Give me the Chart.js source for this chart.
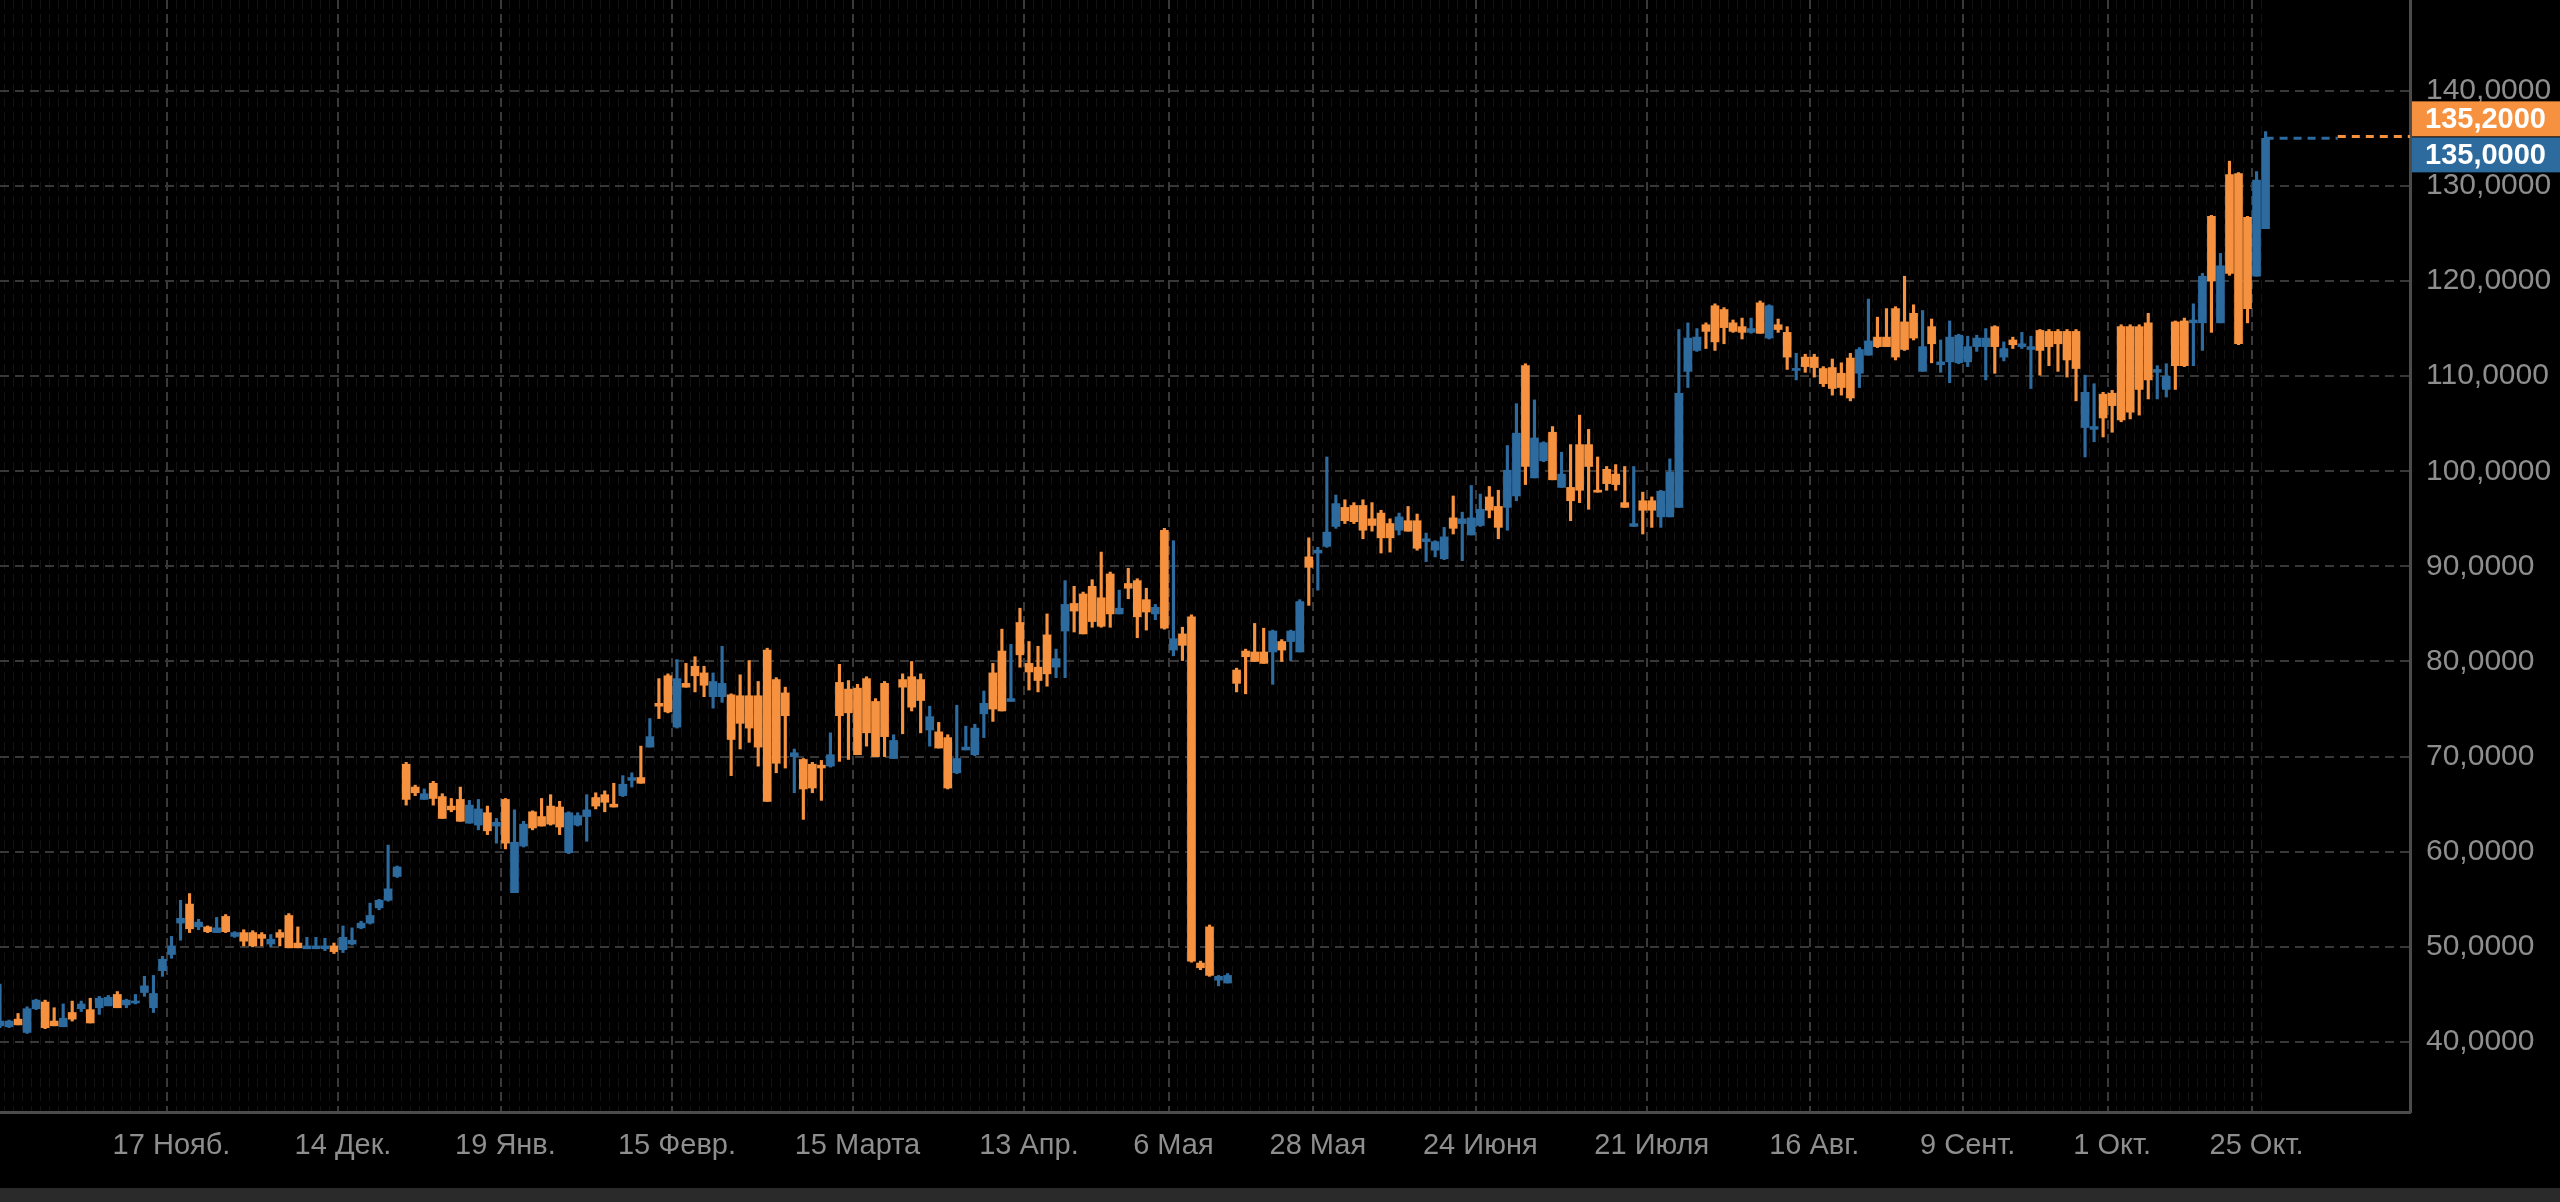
<!DOCTYPE html>
<html lang="ru">
<head>
<meta charset="UTF-8">
<title>График</title>
<script src="https://cdn.jsdelivr.net/npm/chart.js"></script>
<style>
  html, body { margin: 0; padding: 0; background: #000; overflow: hidden; }
  .wrap { position: relative; width: 2560px; height: 1188px; }
  .bottom-bar { width: 2560px; height: 14px; background: #2a2a2a; }
</style>
</head>
<body>
<div class="wrap"><canvas id="chart"></canvas></div>
<div class="bottom-bar"></div>
<script>
// свечи: open / high / low / close
const opens = [
  41.7,41.6,42.4,41.0,43.5,44.2,42.2,41.6,43.1,43.5,43.4,43.6,43.8,45.0,43.9,44.1,45.2,43.6,47.5,49.2,
  52.5,54.5,52.1,52.1,51.5,53.2,51.1,51.5,51.5,51.3,50.3,51.5,53.3,50.4,49.8,49.8,49.8,50.1,49.7,50.3,
  52.0,52.5,54.1,54.9,57.4,69.2,66.8,65.5,67.2,65.8,64.8,65.5,63.0,62.8,64.1,62.7,65.5,55.7,60.6,64.2,
  63.7,64.8,64.7,59.9,62.8,63.7,65.7,66.0,65.0,65.9,67.5,67.8,71.0,75.6,78.5,73.1,77.7,79.5,78.8,76.3,
  76.3,76.5,76.4,76.4,76.4,81.2,78.1,76.7,70.0,69.7,69.2,69.1,69.0,77.8,77.1,77.2,78.2,75.8,77.7,69.8,
  78.1,78.4,78.1,72.8,72.6,72.0,68.3,70.7,70.2,74.5,78.8,81.1,75.8,84.1,79.8,79.4,82.8,79.4,83.2,86.1,
  87.1,87.9,86.7,89.2,85.0,88.2,88.5,86.5,85.0,93.8,81.2,82.9,84.7,48.3,52.1,46.5,46.2,79.1,81.1,81.0,
  81.0,81.0,82.1,82.1,81.0,91.0,91.4,92.1,94.2,96.2,96.4,96.4,95.0,95.6,94.5,93.8,94.8,94.8,92.6,91.7,
  90.8,95.1,94.5,93.3,94.3,97.3,96.3,96.2,97.4,111.1,99.3,101.1,104.1,98.3,98.3,102.8,102.8,98.0,100.2,99.7,
  96.7,94.2,96.9,96.9,95.2,95.2,96.2,110.5,112.7,115.4,117.4,117.0,115.6,115.2,114.6,117.7,114.0,115.4,114.6,110.6,
  112.0,112.0,110.8,110.9,110.3,111.9,110.3,112.2,114.1,114.1,117.1,115.7,116.6,110.5,115.2,111.2,111.5,111.4,111.5,113.1,
  113.1,115.2,112.0,113.8,113.1,112.8,114.8,114.7,114.7,114.7,114.7,104.6,104.4,108.1,108.2,115.2,115.2,115.2,115.6,110.4,
  108.6,115.7,115.8,115.6,115.6,126.8,115.6,131.2,131.3,126.7,120.5,125.5
];
const highs = [
  46.1,42.3,43.0,43.7,44.5,44.4,43.6,44.0,44.3,44.3,44.6,44.8,44.9,45.3,44.5,45.0,46.9,47.0,49.0,51.1,
  54.9,55.6,52.9,52.2,53.1,53.4,51.6,51.8,51.7,51.5,51.3,51.8,53.5,52.1,51.0,51.0,50.9,50.4,52.2,52.0,
  52.7,54.6,55.0,60.7,58.5,69.4,67.0,66.6,67.4,66.1,65.6,66.8,65.4,65.5,64.8,63.5,65.6,64.4,63.2,64.3,
  65.6,66.0,65.3,64.2,64.1,66.0,66.2,66.4,67.2,68.0,68.3,71.1,74.0,78.2,78.7,80.2,79.8,80.5,79.5,78.8,
  81.6,76.6,78.6,80.1,77.9,81.4,78.3,77.3,70.8,69.8,69.4,69.6,72.5,79.7,78.0,77.6,78.4,76.1,77.9,72.3,
  78.7,80.0,78.7,75.3,73.6,72.3,75.4,73.2,73.4,76.9,79.8,83.4,81.8,85.6,82.1,81.6,85.0,81.3,88.5,87.9,
  87.3,88.6,91.5,89.4,87.5,89.8,88.7,87.7,86.0,94.0,92.7,83.6,84.9,48.5,52.3,47.0,47.2,79.3,81.3,84.0,
  83.5,83.3,82.3,83.3,86.5,93.0,92.0,101.5,97.5,97.0,96.7,97.0,96.7,95.9,95.0,95.6,96.3,95.5,93.5,92.7,
  94.1,97.4,95.7,98.5,97.6,98.4,98.0,102.7,107.1,111.3,107.5,103.1,104.7,102.0,102.8,105.9,104.4,101.5,100.5,100.7,
  100.5,100.5,97.8,97.3,98.0,101.3,114.9,115.6,115.0,115.6,117.6,117.2,115.9,116.1,116.1,117.9,117.5,116.0,115.2,112.4,
  112.3,112.3,111.0,111.8,111.4,112.4,113.0,118.1,116.2,117.1,117.3,120.5,117.5,116.9,116.0,113.8,115.8,114.4,114.2,114.3,
  115.0,115.3,113.6,114.1,114.6,114.2,114.9,114.9,114.9,114.9,114.9,110.1,109.2,108.3,108.5,115.4,115.4,115.4,116.6,111.1,
  111.3,115.8,116.1,117.6,120.8,126.9,122.9,132.6,131.4,126.8,131.5,135.7
];
const lows = [
  41.5,41.5,41.8,40.9,43.4,41.4,41.7,41.6,42.2,43.2,42.0,42.9,43.8,43.6,43.6,44.0,44.8,43.1,46.9,48.8,
  50.7,51.5,51.8,51.5,51.5,51.5,51.0,50.1,50.0,50.1,50.0,50.1,49.9,49.9,49.8,49.8,49.6,49.3,49.4,50.2,
  51.9,52.4,53.9,54.8,57.3,64.9,65.9,65.5,64.9,63.5,64.2,63.2,63.0,62.3,61.8,60.9,60.3,55.7,60.5,62.3,
  62.7,62.8,61.8,59.8,62.7,61.1,64.5,64.2,64.7,65.8,66.8,67.2,71.0,74.0,74.6,73.0,77.3,76.8,76.3,75.1,
  75.7,68.0,70.8,71.5,69.0,65.3,68.3,68.8,66.2,63.4,66.2,65.4,68.9,69.5,69.7,70.2,71.1,70.0,70.0,69.8,
  72.4,74.8,72.5,71.1,70.9,66.6,68.2,70.7,70.1,72.0,73.7,74.8,75.8,79.4,77.0,76.8,77.4,78.3,78.3,83.1,
  82.9,83.6,83.6,83.6,85.0,86.6,82.5,83.3,84.4,83.4,80.6,80.1,48.4,47.6,46.9,45.9,46.2,76.8,76.6,80.0,
  79.8,77.6,80.0,80.1,81.0,85.9,87.5,92.0,94.0,94.5,94.5,92.9,93.7,91.4,91.5,93.3,93.7,91.7,90.5,91.0,
  90.7,93.4,90.6,93.3,94.2,95.1,92.9,93.8,96.9,98.6,99.3,101.0,99.1,98.3,94.8,96.7,96.0,97.8,98.0,98.0,
  96.2,94.2,93.4,94.1,94.1,95.2,96.2,108.8,112.6,112.9,112.7,113.4,114.6,113.9,114.5,114.5,113.9,114.6,110.7,109.6,
  110.4,109.9,108.9,108.0,108.0,107.4,108.8,112.2,113.0,113.1,111.7,112.7,113.8,110.5,111.4,110.4,109.3,111.3,111.0,112.6,
  109.6,110.3,111.6,112.9,112.9,108.7,110.1,111.1,110.5,109.9,107.4,101.5,103.1,103.6,104.1,105.2,105.5,105.9,107.6,107.6,
  107.8,108.6,111.0,111.1,112.7,114.6,115.6,120.6,113.3,115.6,120.5,125.5
];
const closes = [
  42.2,42.2,41.8,43.5,44.4,41.5,41.7,42.5,42.4,44.0,42.0,44.6,44.7,43.6,44.4,44.3,45.9,45.1,48.7,50.1,
  53.0,51.9,52.6,51.6,52.0,51.6,51.5,50.6,50.1,50.9,50.8,51.0,49.9,49.9,50.1,50.1,50.1,49.5,51.0,50.7,
  52.5,53.3,54.9,56.1,58.4,65.5,66.2,66.1,65.6,63.5,64.4,63.2,64.9,64.5,62.2,63.1,60.9,61.0,62.9,62.5,
  62.7,62.9,62.6,64.1,63.8,64.4,64.8,65.2,64.7,67.1,67.8,67.2,72.1,75.3,74.7,78.2,77.3,78.5,77.5,77.9,
  77.7,71.8,73.5,73.0,71.0,65.3,69.3,74.3,70.4,66.6,66.7,68.8,70.2,74.3,74.6,70.2,72.5,70.0,72.1,71.7,
  77.3,75.2,75.9,74.2,70.9,66.7,69.8,71.0,73.0,75.6,75.0,74.8,76.1,80.7,78.9,78.0,78.7,80.3,86.0,85.3,
  82.9,84.2,83.7,85.0,85.6,87.7,84.7,85.2,85.7,83.5,82.4,81.7,48.5,47.8,47.0,46.9,47.0,77.7,80.5,80.0,
  79.8,83.2,81.2,83.2,86.3,89.9,91.7,93.6,96.6,94.8,94.7,93.8,94.3,93.0,93.0,95.2,93.7,91.9,92.9,92.6,
  93.1,94.0,95.0,95.1,96.0,95.9,94.1,100.1,104.0,100.5,103.5,103.0,99.1,99.7,96.9,98.0,100.5,97.8,98.7,98.6,
  96.2,94.5,95.9,95.9,97.9,99.9,108.2,114.0,114.1,114.7,113.6,115.1,114.7,114.6,115.0,114.5,117.4,114.9,112.0,110.8,
  111.0,110.9,109.2,108.7,108.8,107.7,112.8,113.7,113.1,113.1,112.0,112.8,114.0,113.1,113.4,111.5,114.1,114.3,113.1,114.0,
  114.0,113.1,112.9,113.3,113.4,113.1,112.7,113.1,113.4,111.7,110.8,108.3,104.7,105.6,106.9,105.4,106.2,108.6,109.6,110.7,
  110.0,111.1,111.1,115.9,120.5,120.0,121.6,120.8,113.4,117.1,130.6,135.0
];

// ось X: число позиций и подписи дат
const slotCount = 268;
const dateTickIndex = [19, 38, 56, 75, 95, 114, 130, 146, 164, 183, 201, 218, 234, 250];
const dateTickText = ['17 Нояб.', '14 Дек.', '19 Янв.', '15 Февр.', '15 Марта', '13 Апр.', '6 Мая',
                      '28 Мая', '24 Июня', '21 Июля', '16 Авг.', '9 Сент.', '1 Окт.', '25 Окт.'];

// ось Y
const yTicks = [40, 50, 60, 70, 80, 90, 100, 110, 120, 130, 140];
const yMin = 32.64;
const yMax = 149.54;

// ценовые метки справа (верхняя / нижняя)
const tagValues = [135.2, 135.0];

const UP = '#2d6a9e';
const DOWN = '#f6923f';
const FONT = "'Liberation Sans', Arial, Helvetica, sans-serif";
const lastIndex = closes.length - 1;
const splitIndex = 259;

const labels = Array.from({ length: slotCount }, (_, i) => {
    const k = dateTickIndex.indexOf(i);
    return k >= 0 ? dateTickText[k] : '';
});
const isDate = i => dateTickIndex.includes(i);
const candleColor = i => closes[i] >= opens[i] ? UP : DOWN;
const fmt = v => v.toFixed(4).replace('.', ',');

const wickData = lows.map((l, i) => [l, highs[i]]);
const bodyData = opens.map((o, i) => [o, closes[i]]);
const closeLine = labels.map((_, i) => (i >= lastIndex && i <= splitIndex) ? tagValues[1] : null);
const askLine = labels.map((_, i) => (i >= splitIndex) ? tagValues[0] : null);

const tagPlugin = {
    id: 'priceTags',
    afterDraw(chart) {
        const { ctx, chartArea, scales } = chart;
        const mid = scales.y.getPixelForValue((tagValues[0] + tagValues[1]) / 2);
        const h = 35;
        const left = chartArea.right + 2;
        const boxes = [
            { top: mid - h - 1, color: DOWN, v: tagValues[0] },
            { top: mid, color: UP, v: tagValues[1] }
        ];
        ctx.save();
        boxes.forEach(b => {
            ctx.fillStyle = b.color;
            ctx.fillRect(left, b.top, chart.width - left, h);
            ctx.fillStyle = '#ffffff';
            ctx.font = 'bold 29px ' + FONT;
            ctx.textBaseline = 'middle';
            ctx.textAlign = 'left';
            ctx.fillText(fmt(b.v), chartArea.right + 15, b.top + h / 2 + 1);
        });
        ctx.restore();
    }
};

new Chart(document.getElementById('chart'), {
    data: {
        labels: labels,
        datasets: [
            {
                type: 'line', data: askLine, borderColor: DOWN, borderWidth: 3,
                borderDash: [8, 6], pointRadius: 0, order: 0
            },
            {
                type: 'line', data: closeLine, borderColor: UP, borderWidth: 3,
                borderDash: [8, 6], pointRadius: 0, order: 0
            },
            {
                type: 'bar', data: bodyData, grouped: false, barThickness: 8, minBarLength: 2,
                backgroundColor: ctx => candleColor(ctx.dataIndex), borderWidth: 0, order: 1
            },
            {
                type: 'bar', data: wickData, grouped: false, barThickness: 2.5,
                backgroundColor: ctx => candleColor(ctx.dataIndex), borderWidth: 0, order: 2
            }
        ]
    },
    options: {
        responsive: true,
        maintainAspectRatio: false,
        animation: false,
        layout: { padding: 0 },
        plugins: { legend: { display: false }, tooltip: { enabled: false } },
        scales: {
            x: {
                type: 'category',
                offset: false,
                grid: {
                    color: ctx => ctx.index > lastIndex ? 'rgba(0,0,0,0)' : (isDate(ctx.index) ? '#3a3a3a' : '#131313'),
                    lineWidth: ctx => isDate(ctx.index) ? 2 : 1,
                    drawTicks: false
                },
                border: { display: true, color: '#4b4b4b', width: 3, dash: [9, 5] },
                ticks: {
                    autoSkip: false, maxRotation: 0, minRotation: 0,
                    color: '#8e8e8e', padding: 17,
                    font: { size: 29, family: "'Liberation Sans Narrow', " + FONT }
                },
                afterFit: s => { s.height = 76; s.paddingLeft = 0; s.paddingRight = 0; }
            },
            y: {
                position: 'right',
                min: yMin,
                max: yMax,
                afterBuildTicks: s => { s.ticks = yTicks.map(v => ({ value: v })); },
                grid: { color: '#383838', lineWidth: 2, drawTicks: false },
                border: { display: true, color: '#4b4b4b', width: 3, dash: [9, 6] },
                ticks: {
                    color: '#8e8e8e', padding: 16,
                    font: { size: 30, family: FONT },
                    callback: v => fmt(v)
                },
                afterFit: s => { s.width = 150; s.paddingTop = 0; s.paddingBottom = 0; }
            }
        }
    },
    plugins: [tagPlugin]
});
</script>
</body>
</html>
